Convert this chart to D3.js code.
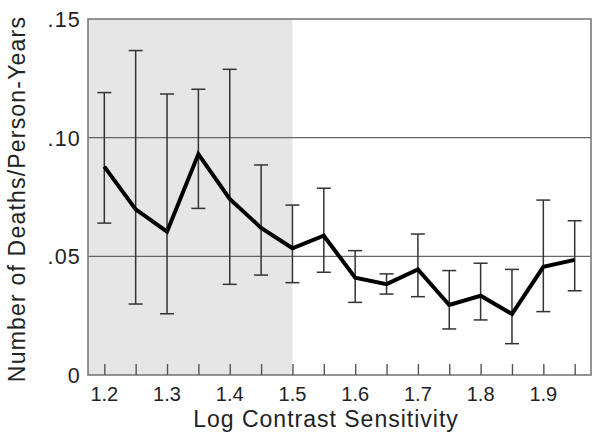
<!DOCTYPE html>
<html>
<head>
<meta charset="utf-8">
<script src="https://cdn.jsdelivr.net/npm/d3@7"></script>
<style>
  html, body { margin: 0; padding: 0; background: #fff; }
  svg { display: block; font-family: "Liberation Sans", Arial, Helvetica, sans-serif; }
</style>
</head>
<body>
<svg id="chart" width="600" height="446"></svg>
<script>
// Data
const sensitivity = [1.2, 1.25, 1.3, 1.35, 1.4, 1.45, 1.5, 1.55, 1.6, 1.65, 1.7, 1.75, 1.8, 1.85, 1.9, 1.95];
const deathRate   = [0.0878, 0.0698, 0.0604, 0.0931, 0.0742, 0.0620, 0.0534, 0.0587, 0.0410, 0.0383, 0.0445, 0.0295, 0.0334, 0.0257, 0.0456, 0.0485];
const upperCI     = [0.1190, 0.1367, 0.1184, 0.1204, 0.1288, 0.0885, 0.0716, 0.0787, 0.0524, 0.0426, 0.0594, 0.0440, 0.0471, 0.0445, 0.0737, 0.0650];
const lowerCI     = [0.0640, 0.0299, 0.0258, 0.0702, 0.0382, 0.0421, 0.0389, 0.0433, 0.0306, 0.0341, 0.0330, 0.0194, 0.0232, 0.0132, 0.0267, 0.0355];
const xTickLabels = ["1.2", "1.3", "1.4", "1.5", "1.6", "1.7", "1.8", "1.9"];
const yTickValues = [0, 0.05, 0.10, 0.15];
const yTickLabels = ["0", ".05", ".10", ".15"];
const gridValues  = [0.05, 0.10];
const shadeEnd    = 1.5; // shaded from left edge to 1.5
const xTitle = "Log Contrast Sensitivity";
const yTitle = "Number of Deaths/Person-Years";

const svg = d3.select("#chart");
const pL = 88, pR = 591, pT = 19, pB = 375;

const x = d3.scaleLinear().domain([1.174, 1.976]).range([pL, pR]);
const y = d3.scaleLinear().domain([0, 0.15]).range([pB, pT]);

// shaded region
svg.append("rect")
  .attr("x", pL).attr("y", pT)
  .attr("width", x(shadeEnd) - pL)
  .attr("height", pB - pT)
  .attr("fill", "#e6e6e6");

// gridlines
svg.selectAll("line.grid").data(gridValues).enter().append("line")
  .attr("class", "grid")
  .attr("x1", pL).attr("x2", pR)
  .attr("y1", d => y(d)).attr("y2", d => y(d))
  .attr("stroke", "#666").attr("stroke-width", 1.1);

// frame
svg.append("rect")
  .attr("x", pL).attr("y", pT)
  .attr("width", pR - pL).attr("height", pB - pT)
  .attr("fill", "none").attr("stroke", "#7a7a7a").attr("stroke-width", 1.6);

// inward ticks on bottom axis
const xAxis = d3.axisTop(x).tickValues(sensitivity).tickSize(11).tickFormat("");
const gx = svg.append("g").attr("transform", `translate(0,${pB})`).call(xAxis);
gx.select(".domain").remove();
gx.selectAll(".tick line").attr("stroke", "#555").attr("stroke-width", 1.4);

// x tick labels
svg.selectAll("text.xlab").data(xTickLabels).enter().append("text")
  .attr("class", "xlab")
  .attr("x", d => x(+d)).attr("y", 401)
  .attr("text-anchor", "middle")
  .attr("font-size", 20).attr("fill", "#222")
  .text(d => d);

// y tick labels
svg.selectAll("text.ylab").data(yTickValues).enter().append("text")
  .attr("class", "ylab")
  .attr("x", 81).attr("y", d => y(d) + 8)
  .attr("text-anchor", "end")
  .attr("font-size", 21.5).attr("letter-spacing", 1.2).attr("fill", "#222")
  .text((d, i) => yTickLabels[i]);

// error bars
const pts = sensitivity.map((s, i) => ({ s, m: deathRate[i], hi: upperCI[i], lo: lowerCI[i] }));
const cap = 7;
const eb = svg.append("g").attr("stroke", "#333").attr("stroke-width", 1.5);
eb.selectAll("line.v").data(pts).enter().append("line").attr("class", "v")
  .attr("x1", d => x(d.s)).attr("x2", d => x(d.s))
  .attr("y1", d => y(d.hi)).attr("y2", d => y(d.lo));
eb.selectAll("line.t").data(pts).enter().append("line").attr("class", "t")
  .attr("x1", d => x(d.s) - cap).attr("x2", d => x(d.s) + cap)
  .attr("y1", d => y(d.hi)).attr("y2", d => y(d.hi));
eb.selectAll("line.b").data(pts).enter().append("line").attr("class", "b")
  .attr("x1", d => x(d.s) - cap).attr("x2", d => x(d.s) + cap)
  .attr("y1", d => y(d.lo)).attr("y2", d => y(d.lo));

// mean line
svg.append("path")
  .datum(pts)
  .attr("fill", "none").attr("stroke", "#000").attr("stroke-width", 4)
  .attr("stroke-linejoin", "miter")
  .attr("d", d3.line().x(d => x(d.s)).y(d => y(d.m)));

// titles
svg.append("text")
  .attr("x", 326).attr("y", 427)
  .attr("text-anchor", "middle")
  .attr("font-size", 23).attr("letter-spacing", 1).attr("fill", "#222")
  .text(xTitle);

svg.append("text")
  .attr("transform", "translate(25,199) rotate(-90)")
  .attr("text-anchor", "middle")
  .attr("font-size", 23).attr("letter-spacing", 1.2).attr("fill", "#222")
  .text(yTitle);
</script>
</body>
</html>
